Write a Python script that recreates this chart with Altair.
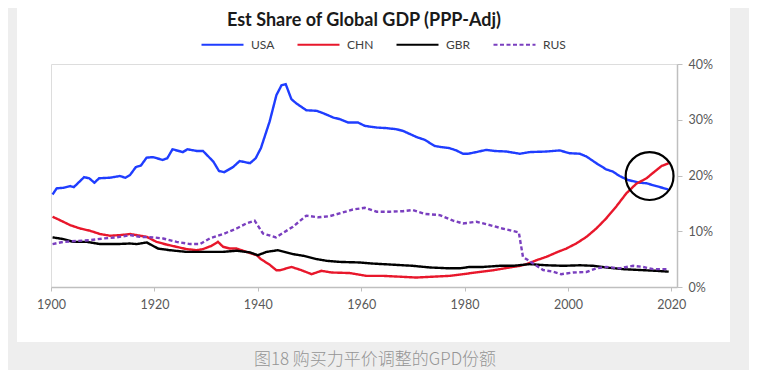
import altair as alt
import pandas as pd

# ---------------- data ----------------
countries = ["USA", "CHN", "GBR", "RUS"]

usa_years = [1900.3, 1901.1, 1902.4, 1903.7, 1904.4, 1906.4, 1907.4, 1908.4, 1909.3, 1911.4,
             1913.3, 1914.4, 1915.3, 1916.4, 1917.4, 1918.5, 1919.7, 1921.6, 1922.5, 1923.5,
             1925.5, 1926.4, 1928.2, 1929.4, 1931.4, 1932.5, 1933.5, 1935.2, 1936.5, 1938.5,
             1939.6, 1940.6, 1942.3, 1943.6, 1944.6, 1945.4, 1946.5, 1947.5, 1949.4, 1951.4,
             1952.6, 1954.6, 1955.9, 1957.5, 1959.4, 1960.7, 1963.0, 1964.9, 1966.8, 1968.1,
             1970.7, 1972.3, 1974.2, 1975.5, 1977.1, 1978.4, 1979.7, 1980.7, 1982.3, 1984.2,
             1985.8, 1988.1, 1990.7, 1992.6, 1995.8, 1998.4, 2000.3, 2002.3, 2003.6, 2005.5,
             2007.4, 2008.7, 2010.0, 2011.6, 2013.9, 2015.2, 2017.1, 2019.4]
usa_share = [16.6, 17.7, 17.8, 18.1, 17.9, 19.7, 19.5, 18.7, 19.5, 19.6,
             19.9, 19.6, 20.1, 21.5, 21.8, 23.2, 23.3, 22.8, 23.1, 24.7,
             24.2, 24.7, 24.4, 24.4, 22.5, 20.8, 20.6, 21.5, 22.6, 22.2,
             23.1, 24.9, 29.7, 34.4, 36.2, 36.4, 33.7, 32.9, 31.7, 31.6,
             31.2, 30.4, 30.1, 29.5, 29.5, 28.9, 28.6, 28.5, 28.3, 28.0,
             26.9, 26.4, 25.3, 25.1, 24.9, 24.5, 23.9, 23.9, 24.2, 24.6,
             24.4, 24.3, 23.9, 24.2, 24.3, 24.5, 24.0, 23.9, 23.4, 22.2,
             21.1, 20.7, 19.9, 19.2, 18.7, 18.6, 18.1, 17.5]

chn_years = [1900.3, 1901.7, 1903.7, 1905.6, 1907.5, 1909.5, 1911.4, 1913.3, 1915.3, 1917.2,
             1918.5, 1920.4, 1922.4, 1924.3, 1926.2, 1928.2, 1929.4, 1931.1, 1932.3, 1933.3,
             1934.6, 1935.9, 1937.8, 1939.8, 1940.6, 1942.3, 1943.6, 1944.3, 1946.5, 1948.5,
             1950.4, 1952.3, 1954.3, 1957.8, 1961.0, 1964.2, 1967.5, 1970.7, 1973.9, 1977.1,
             1979.7, 1982.9, 1985.5, 1988.7, 1990.7, 1992.0, 1993.9, 1995.8, 1997.8, 1999.7,
             2001.6, 2003.6, 2005.5, 2007.4, 2009.4, 2011.3, 2013.2, 2015.2, 2016.5, 2018.1,
             2019.5]
chn_share = [12.6, 12.0, 11.1, 10.5, 10.1, 9.5, 9.2, 9.3, 9.5, 9.2,
             9.0, 8.1, 7.6, 7.2, 6.8, 6.6, 6.8, 7.4, 8.1, 7.2,
             6.9, 6.9, 6.3, 5.7, 5.0, 4.0, 3.0, 3.0, 3.6, 3.0,
             2.3, 2.9, 2.6, 2.5, 2.0, 2.0, 1.85, 1.7, 1.85, 2.0,
             2.3, 2.7, 3.0, 3.5, 3.8, 4.1, 4.8, 5.4, 6.2, 6.9,
             7.8, 9.0, 10.5, 12.3, 14.5, 16.8, 18.5, 19.5, 20.5, 21.7,
             22.2]

gbr_years = [1900.3, 1902.4, 1904.3, 1906.9, 1909.5, 1912.7, 1915.3, 1916.6, 1918.5, 1920.7,
             1923.0, 1926.2, 1929.4, 1933.3, 1935.9, 1938.5, 1940.0, 1941.7, 1943.9, 1946.8,
             1948.8, 1951.4, 1953.3, 1955.9, 1959.7, 1962.3, 1966.2, 1970.0, 1973.3, 1977.1,
             1979.1, 1981.0, 1983.6, 1986.8, 1989.4, 1992.6, 1995.8, 1999.1, 2002.3, 2004.9,
             2007.4, 2010.7, 2013.9, 2017.1, 2019.5]
gbr_share = [8.9, 8.6, 8.1, 8.1, 7.7, 7.7, 7.8, 7.7, 8.0, 6.9,
             6.6, 6.3, 6.3, 6.3, 6.5, 6.2, 5.7, 6.3, 6.6, 5.9,
             5.6, 5.0, 4.7, 4.5, 4.4, 4.2, 4.0, 3.8, 3.5, 3.35,
             3.35, 3.6, 3.6, 3.8, 3.8, 4.1, 3.9, 3.8, 3.9, 3.8,
             3.5, 3.2, 3.05, 2.9, 2.75]

rus_years = [1900.3, 1902.4, 1905.0, 1907.5, 1910.1, 1912.7, 1915.3, 1917.2, 1919.8, 1921.7,
             1924.3, 1926.9, 1928.8, 1930.7, 1933.3, 1935.9, 1937.8, 1939.4, 1941.0, 1943.5,
             1946.8, 1949.4, 1951.7, 1953.9, 1956.2, 1958.4, 1960.7, 1963.0, 1965.5, 1968.1,
             1970.0, 1972.3, 1975.2, 1977.8, 1979.7, 1982.3, 1984.9, 1987.3, 1990.5, 1991.3,
             1993.3, 1995.2, 1997.1, 1998.7, 2001.0, 2003.6, 2005.5, 2007.4, 2010.0, 2012.6,
             2014.5, 2016.5, 2019.5]
rus_share = [7.7, 8.1, 8.25, 8.4, 8.7, 8.9, 9.3, 9.0, 8.9, 8.7,
             8.1, 7.7, 7.7, 8.7, 9.5, 10.5, 11.4, 11.9, 9.6, 8.9,
             10.8, 12.8, 12.5, 12.7, 13.3, 13.9, 14.2, 13.5, 13.5, 13.6,
             13.8, 13.1, 12.9, 11.9, 11.4, 11.7, 11.1, 10.5, 9.8, 5.4,
             4.2, 3.05, 2.75, 2.3, 2.6, 2.7, 3.35, 3.6, 3.35, 3.8,
             3.6, 3.2, 3.2]

circle_year = [2015.8]
circle_share = [19.9]

x_ticks = [1900, 1920, 1940, 1960, 1980, 2000, 2020]
y_ticks = [0, 0.05, 0.10, 0.15, 0.20, 0.25, 0.30, 0.35, 0.40]

title_text = "Est Share of Global GDP (PPP-Adj)"
caption_text = "图18 购买力平价调整的GPD份额"

colors = ["#1f3dff", "#e8172b", "#000000", "#7a3fbf"]
dashes = [[1, 0], [1, 0], [1, 0], [4, 2.5]]

# ---------------- tables ----------------
frames = []
for name, yrs, vals in [("USA", usa_years, usa_share), ("CHN", chn_years, chn_share),
                        ("GBR", gbr_years, gbr_share), ("RUS", rus_years, rus_share)]:
    frames.append(pd.DataFrame({"country": name, "year": yrs,
                                "share": [v / 100 for v in vals]}))
df = pd.concat(frames, ignore_index=True)
df["order"] = df.index

circ = pd.DataFrame({"year": circle_year, "share": [v / 100 for v in circle_share]})

W, H = 626, 223
FONT = "Lato"
LABEL = "#595959"
GRID = "#bfbfbf"

x_scale = alt.Scale(domain=[1900, 2021.1], nice=False, zero=False)
y_scale = alt.Scale(domain=[0, 0.40], nice=False)

x_enc = alt.X("year:Q", scale=x_scale,
              axis=alt.Axis(values=x_ticks, format="d", title=None, grid=False,
                            labelFont=FONT, labelFontSize=12.5, labelColor=LABEL,
                            domainColor=GRID, domainWidth=1.5, tickColor=GRID,
                            tickSize=4, labelPadding=7, labelFlush=False))
y_enc = alt.Y("share:Q", scale=y_scale,
              axis=alt.Axis(orient="right", values=y_ticks, format=".0%", title=None,
                            grid=False, labelFont=FONT, labelFontSize=12.5,
                            labelColor=LABEL, domainColor=GRID, domainWidth=1.5,
                            tickColor=GRID, tickSize=5, labelPadding=6,
                            labelAlign="left", labelFlush=False))

one = alt.Data(values=[{"a": 1}])
band = "#eeeeee"

bottom_band = alt.Chart(one).mark_rect(color=band).encode(
    x=alt.value(-43), x2=alt.value(698), y=alt.value(278), y2=alt.value(306))
left_band = alt.Chart(one).mark_rect(color=band).encode(
    x=alt.value(-43), x2=alt.value(-34), y=alt.value(-56), y2=alt.value(306))
right_band = alt.Chart(one).mark_rect(color=band).encode(
    x=alt.value(679), x2=alt.value(698), y=alt.value(-56), y2=alt.value(306))

lines = alt.Chart(df).mark_line(strokeWidth=2.4).encode(
    x=x_enc,
    y=y_enc,
    order="order:Q",
    color=alt.Color("country:N", sort=countries,
                    scale=alt.Scale(domain=countries, range=colors),
                    legend=alt.Legend(title=None, orient="none", direction="horizontal",
                                      legendX=149, legendY=-42, columns=4,
                                      symbolType="stroke", symbolSize=1764,
                                      symbolStrokeWidth=2.2, labelFont=FONT,
                                      labelFontSize=12, labelColor="#404040",
                                      labelOffset=6, columnPadding=18)),
    strokeDash=alt.StrokeDash("country:N", sort=countries,
                              scale=alt.Scale(domain=countries, range=dashes),
                              legend=None),
)

ring = alt.Chart(circ).mark_point(shape="circle", filled=False, size=2290,
                                  stroke="black", strokeWidth=2.2, opacity=1).encode(
    x=alt.X("year:Q", scale=x_scale),
    y=alt.Y("share:Q", scale=y_scale),
)

caption = alt.Chart(one).mark_text(
    text=caption_text, font="Noto Sans CJK SC", fontSize=17, fontWeight=300,
    color="#959595", align="center", baseline="middle").encode(
    x=alt.value(324), y=alt.value(296))

chart = alt.layer(bottom_band, left_band, right_band, lines, ring, caption).properties(
    width=W, height=H,
    title=alt.Title(title_text, font=FONT, fontSize=18, fontWeight="bold",
                    color="#1a1a1a", anchor="middle", offset=-22),
    autosize=alt.AutoSizeParams(type="none"),
    padding={"left": 43, "top": 56, "right": 72, "bottom": 83},
).configure_view(stroke="#d9d9d9", strokeWidth=1.5).configure(background="white")

chart.save("out.html", embed_options={"renderer": "svg", "actions": False})
